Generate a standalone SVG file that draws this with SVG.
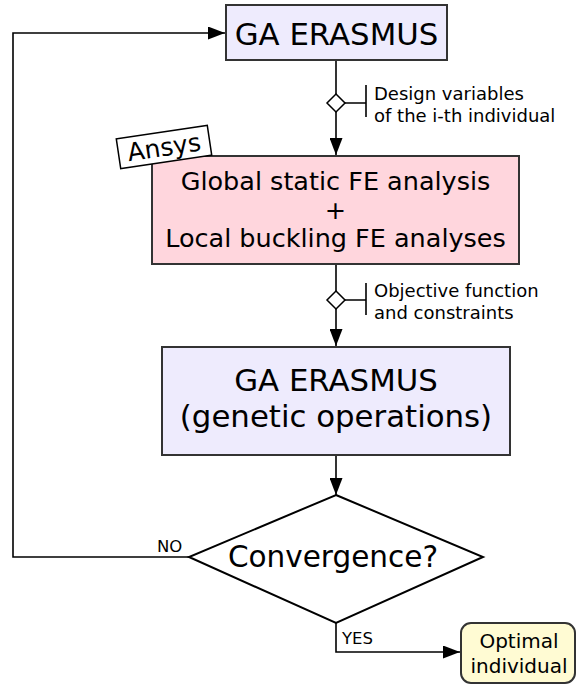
<svg xmlns="http://www.w3.org/2000/svg" width="577" height="687" viewBox="0 0 577 687">
<style>
text{font-family:"DejaVu Sans","Liberation Sans",sans-serif;fill:#000}
.box{stroke:#333;stroke-width:2}
.conn{fill:none;stroke:#000;stroke-width:1.6}
.big{font-size:30.8px;text-anchor:middle}
.mid{font-size:25.5px;text-anchor:middle}
.lbl{font-size:18px}
.yn{font-size:16.5px}
.opt{font-size:20px;text-anchor:middle}
</style>
<defs>
<marker id="ah" markerUnits="userSpaceOnUse" markerWidth="17" markerHeight="13" refX="17" refY="6.5" orient="auto">
<path d="M0,0 L17,6.5 L0,13 Z" fill="#000"/>
</marker>
</defs>
<rect width="577" height="687" fill="#fff"/>
<g id="connectors">
<path class="conn" d="M189,557 H13 V33 H225" marker-end="url(#ah)"/>
<path class="conn" d="M336,60 V155" marker-end="url(#ah)"/>
<path class="conn" d="M336,264 V346" marker-end="url(#ah)"/>
<path class="conn" d="M336,455 V495" marker-end="url(#ah)"/>
<path class="conn" d="M336,623 V652 H460" marker-end="url(#ah)"/>
<g id="label1">
<path class="conn" d="M345,103 H366 M366,85 V117"/>
<polygon points="336,94 345,103 336,112 327,103" fill="#fff" stroke="#000" stroke-width="1.5"/>
<text class="lbl" x="374" y="100">Design variables</text>
<text class="lbl" x="374" y="122">of the i-th individual</text>
</g>
<g id="label2">
<path class="conn" d="M345,300 H366 M366,283 V315"/>
<polygon points="336,291 345,300 336,309 327,300" fill="#fff" stroke="#000" stroke-width="1.5"/>
<text class="lbl" x="374" y="297">Objective function</text>
<text class="lbl" x="374" y="319">and constraints</text>
</g>
<text class="yn" x="157" y="552">NO</text>
<text class="yn" x="342" y="644">YES</text>
</g>
<g id="ga-top">
<rect class="box" x="226" y="5" width="221" height="55" fill="#eeebfd"/>
<text class="big" x="336.5" y="44.5">GA ERASMUS</text>
</g>
<g id="fe-analysis">
<rect class="box" x="152" y="156" width="367" height="108" fill="#ffd6dd"/>
<text class="mid" x="335.5" y="190">Global static FE analysis</text>
<text class="mid" x="335.5" y="219">+</text>
<text class="mid" x="335.5" y="247">Local buckling FE analyses</text>
</g>
<g id="ansys" transform="translate(164,147) rotate(-8.5)">
<rect x="-46" y="-15" width="92" height="30" fill="#fff" stroke="#000" stroke-width="1.5"/>
<text x="0" y="9" font-size="25" text-anchor="middle">Ansys</text>
</g>
<g id="ga-genetic">
<rect class="box" x="162" y="347" width="348" height="108" fill="#eeebfd"/>
<text class="big" x="336" y="391">GA ERASMUS</text>
<text class="big" x="336" y="427">(genetic operations)</text>
</g>
<g id="convergence">
<polygon points="336,495 483,557 336,623 189,557" fill="#fff" stroke="#000" stroke-width="2"/>
<text x="333" y="567" font-size="29.5" text-anchor="middle">Convergence?</text>
</g>
<g id="optimal">
<rect class="box" x="461" y="623" width="114" height="60" rx="10" fill="#fffbd3"/>
<text class="opt" x="519" y="648">Optimal</text>
<text class="opt" x="519" y="673">individual</text>
</g>
</svg>
